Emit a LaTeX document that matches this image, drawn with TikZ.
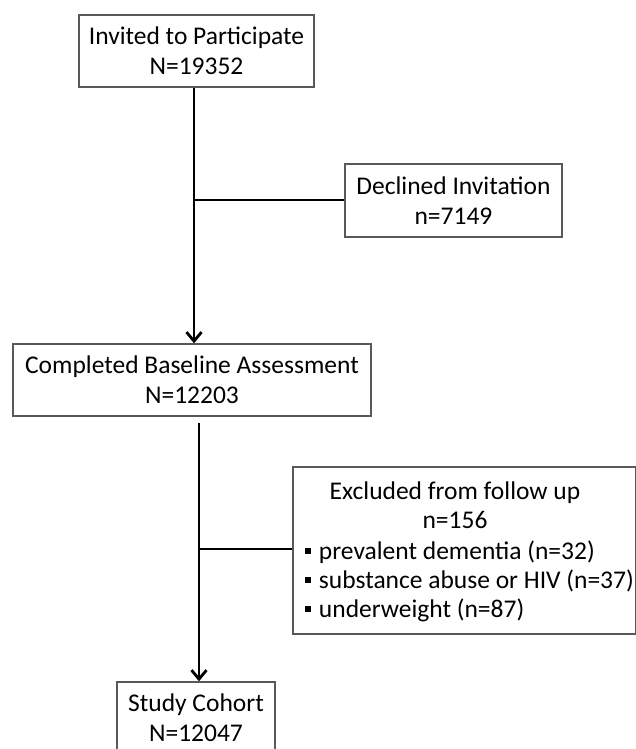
\documentclass[tikz,border=0pt]{standalone}
\usepackage{fontspec}
\setmainfont{Carlito}
\usetikzlibrary{arrows.meta,calc}
\tikzset{
  box/.style={draw=black!65, line width=1.4pt, fill=white, align=center, inner sep=0pt,
    font=\fontsize{25.5}{30}\selectfont},
  conn/.style={draw=black, line width=2.8pt},
  arr/.style={conn, -{Straight Barb[length=9pt,width=15pt]}},
  txt/.style={inner sep=0pt, font=\fontsize{25.5}{30}\selectfont},
}
\newcommand{\sqbullet}{\rule[0.2em]{0.24em}{0.24em}}
\begin{document}
\begin{tikzpicture}[x=1pt,y=-1pt]
\useasboundingbox (0,0) rectangle (636,749);
% boxes
\node[box, minimum width=235pt, minimum height=72pt] (b1) at (196.5,51) {Invited to Participate\\N=19352};
\node[box, minimum width=217pt, minimum height=73pt] (b2) at (453.5,200.5) {Declined Invitation\\n=7149};
\node[box, minimum width=358pt, minimum height=72pt] (b3) at (192,380) {Completed Baseline Assessment\\N=12203};
\node[box, minimum width=343pt, minimum height=167pt] (b4) at (464.5,550.5) {};
\node[box, minimum width=158pt, minimum height=72pt] (b5) at (196,718) {Study Cohort\\N=12047};
% text of the exclusion box
\node[txt, anchor=base] (t1) at (455,499) {Excluded from follow up};
\node[txt, anchor=base] (t2) at (455,528) {n=156};
\node[txt, anchor=base west] (t3) at (305,559) {\sqbullet\hspace{0.3em}prevalent dementia (n=32)};
\node[txt, anchor=base west] (t4) at (305,588) {\sqbullet\hspace{0.3em}substance abuse or HIV (n=37)};
\node[txt, anchor=base west] (t5) at (305,617) {\sqbullet\hspace{0.3em}underweight (n=87)};
% junctions
\coordinate (j1) at (194,200);
\coordinate (j2) at (199,549);
\coordinate (s2) at (199,423);
% connectors
\draw[arr] (b1.south -| j1) -- (b3.north -| j1);
\draw[conn] (j1) -- (b2.west |- j1);
\draw[arr] (s2) -- (b5.north -| s2);
\draw[conn] (j2) -- (b4.west |- j2);
\end{tikzpicture}
\end{document}
